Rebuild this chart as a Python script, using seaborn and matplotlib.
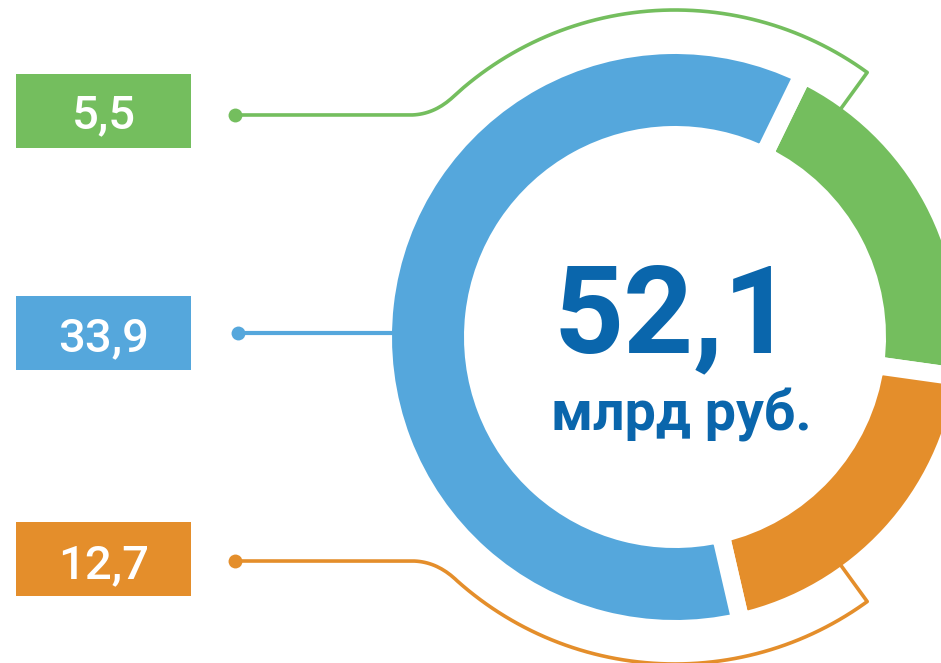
import numpy as np
import seaborn as sns
import matplotlib.pyplot as plt
from matplotlib.patches import Rectangle

# values shown on the chart
labels = ["5,5", "33,9", "12,7"]
total_label = "52,1"
unit_label = "млрд руб."
# arc sizes as drawn in the picture (degrees, clockwise from the top gap)
arc_sizes = [72, 69, 219]          # green, orange, blue
arc_colors = ["#74BE5E", "#E48E2B", "#55A7DC"]
box_colors = ["#74BE5E", "#55A7DC", "#E48E2B"]

sns.set_theme(style="white")
plt.rcParams["font.family"] = ["Roboto", "DejaVu Sans"]

W, H = 941, 663
fig = plt.figure(figsize=(W / 100, H / 100), dpi=100)
ax = fig.add_axes([0, 0, 1, 1])

cx, cy = 675, 337
r_out, r_in = 283, 211
gap = 18

# donut: white edge strokes make the gaps, so pad the radii by half a gap
ax.pie(arc_sizes, colors=arc_colors, startangle=-64, counterclock=True,
       center=(cx, cy), radius=r_out + gap / 2,
       wedgeprops=dict(width=(r_out - r_in) + gap, edgecolor="white",
                       linewidth=gap * 0.72, joinstyle="miter"))

ax.set_xlim(0, W)
ax.set_ylim(H, 0)
ax.set_aspect("equal")
ax.axis("off")


def pt(theta, r):
    # theta in degrees, clockwise from the top of the screen
    t = np.radians(theta)
    return cx + r * np.sin(t), cy - r * np.cos(t)


def bracket(y_h, x_dot, theta_end, color, lower=False):
    r_line = 327
    dy = y_h - cy
    dx = -np.sqrt(r_line ** 2 - dy ** 2)
    th0 = np.degrees(np.arctan2(dx, -dy))     # angle of meeting point
    if lower:
        th0 = th0 % 360
        step = -5
    else:
        step = 5
    x_int = cx + dx
    p0 = np.array([x_int - 25, y_h])
    p1 = np.array([x_int, y_h])
    p2 = np.array(pt(th0 + step, r_line))
    s = np.linspace(0, 1, 20)[:, None]
    bez = (1 - s) ** 2 * p0 + 2 * (1 - s) * s * p1 + s ** 2 * p2
    ths = np.linspace(th0 + step, theta_end, 120)
    arc = np.array([pt(t, r_line) for t in ths])
    tail = np.array([pt(theta_end, r_line), pt(theta_end, r_out)])
    path = np.vstack([[[x_dot, y_h]], bez, arc, tail])
    ax.plot(path[:, 0], path[:, 1], color=color, lw=2.6,
            solid_joinstyle="round", solid_capstyle="round")
    ax.plot(x_dot, y_h, "o", color=color, ms=10, mec="none")


bracket(115, 235, 36, arc_colors[0])
bracket(561, 235, 144, arc_colors[1], lower=True)

# blue leader
ax.plot([238, cx - r_out + 2], [333, 333], color=arc_colors[2], lw=3)
ax.plot(238, 333, "o", color=arc_colors[2], ms=10, mec="none")

# value boxes
box_top = [74, 296, 522]
baselines = [128, 351, 578]
for top, base, col, lab in zip(box_top, baselines, box_colors, labels):
    ax.add_patch(Rectangle((16, top), 175, 74, color=col, lw=0))
    ax.text(104, base, lab, color="white", fontsize=34, fontweight="medium",
            ha="center", va="baseline")

ax.text(674, 352, total_label, color="#0A66AC", fontsize=88,
        fontweight="bold", ha="center", va="baseline")
ax.text(681, 430, unit_label, color="#0A66AC", fontsize=40,
        fontweight="bold", ha="center", va="baseline")

fig.savefig("out.png", dpi=100)
